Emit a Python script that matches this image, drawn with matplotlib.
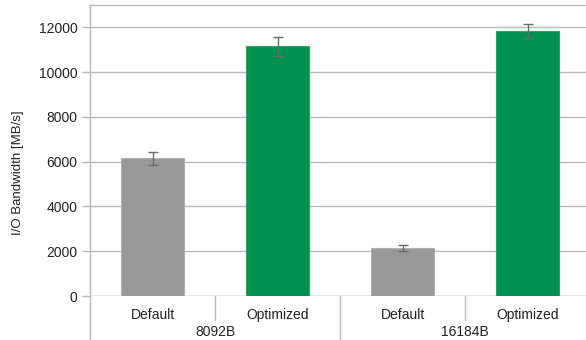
import matplotlib
matplotlib.use("Agg")
import matplotlib.pyplot as plt
from matplotlib.transforms import blended_transform_factory

plt.rcParams["font.family"] = ["Liberation Sans", "DejaVu Sans"]

# bandwidth per config, grouped by block size
groups = ["8092B", "16184B"]
modes = ["Default", "Optimized"]
bandwidth = [6150, 11150, 2150, 11830]
bandwidth_err = [300, 430, 150, 310]
bar_colors = ["#999999", "#009150", "#999999", "#009150"]
edge_colors = ["#b0b0b0", "#2aa56a", "#b0b0b0", "#2aa56a"]

GRID = "#b8b8b8"
TEXT = "#222222"

fig = plt.figure(figsize=(5.86, 3.40), dpi=100)
ax = fig.add_axes((90 / 586, 1 - 296 / 340, 500 / 586, 291 / 340))

xs = list(range(len(bandwidth)))
ax.bar(xs, bandwidth, width=0.5, color=bar_colors, edgecolor=edge_colors,
       linewidth=0.8, zorder=3)
ax.errorbar(xs, bandwidth, yerr=bandwidth_err, fmt="none", ecolor="#6a6a6a",
            elinewidth=1.0, capsize=3.5, capthick=1.0, zorder=4)

ax.set_xlim(-0.5, len(xs) - 0.5)
ax.set_ylim(0, 13000)
ax.set_yticks(range(0, 12001, 2000))
ax.yaxis.grid(True, color=GRID, linewidth=1.0, zorder=0)
ax.set_axisbelow(True)
ax.tick_params(axis="y", length=6, width=1, color=GRID, labelsize=10,
               labelcolor=TEXT, pad=3)
ax.set_xticks([])
for side in ("right", "bottom"):
    ax.spines[side].set_visible(False)
for side in ("left", "top"):
    ax.spines[side].set_color(GRID)
    ax.spines[side].set_linewidth(1.0)
ax.axhline(0, color=GRID, linewidth=1.0, zorder=2)

ax.set_ylabel("I/O Bandwidth [MB/s]", fontsize=9.5, color=TEXT)
ax.yaxis.set_label_coords(-0.132, 0.425)

# two-level category axis below the plot
trans = blended_transform_factory(ax.transData, ax.transAxes)
ax_h = 291  # axes height in pixels
for i, x in enumerate(xs):
    ax.text(x, -19 / ax_h, modes[i % 2], transform=trans, ha="center",
            va="center", fontsize=10, color=TEXT)
for g, name in enumerate(groups):
    ax.text(2 * g + 0.5, -36 / ax_h, name, transform=trans, ha="center",
            va="center", fontsize=10, color=TEXT)

for x in (0.5, 2.5):
    ax.plot([x, x], [0, -24 / ax_h], transform=trans, color=GRID,
            linewidth=1.0, clip_on=False)
for x in (-0.5, 1.5):
    ax.plot([x, x], [0, -46 / ax_h], transform=trans, color=GRID,
            linewidth=1.0, clip_on=False)

fig.savefig("out.png", dpi=100, facecolor="white")
